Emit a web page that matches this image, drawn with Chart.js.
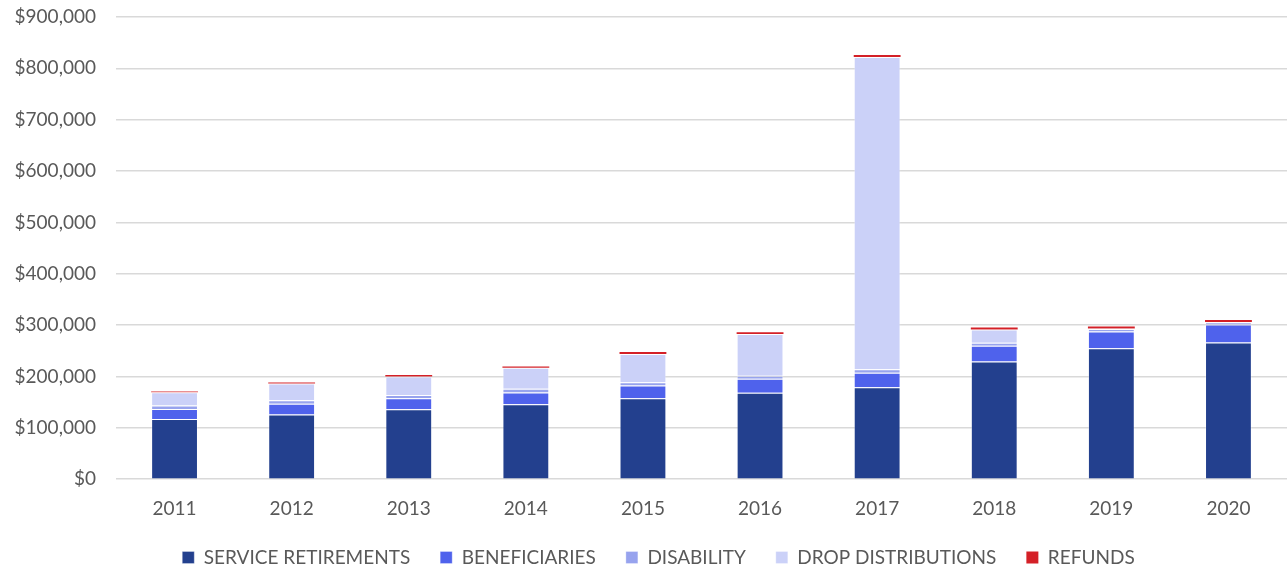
<!DOCTYPE html>
<html>
<head>
<meta charset="utf-8">
<script src="https://cdn.jsdelivr.net/npm/chart.js@4"></script>
<style>
  html, body { margin: 0; padding: 0; background: #fff; }
  #wrap { width: 1288px; height: 568px; }
</style>
</head>
<body>
<div id="wrap"><canvas id="barChart" width="1288" height="568"></canvas></div>
<script>
let years = ['2011', '2012', '2013', '2014', '2015', '2016', '2017', '2018', '2019', '2020'];

let serviceRetirements = [117000, 126000, 136000, 146000, 157500, 168500, 179000, 229000, 255000, 266000];
let beneficiaries      = [19500, 21000, 21500, 23000, 25000, 27000, 28500, 31000, 32500, 35000];
let disability         = [7000, 6500, 6500, 7000, 6500, 6000, 6500, 5500, 5000, 4500];
let dropDistributions  = [26000, 33000, 36000, 41000, 55000, 81000, 608000, 26000, 1000, 500];
let refunds            = [1500, 2000, 3000, 2500, 3500, 3500, 4000, 4000, 4000, 4000];

let yTicks = [0, 100000, 200000, 300000, 400000, 500000, 600000, 700000, 800000, 900000];

let textColor = '#595959';
let fontFamily = "Lato, 'Open Sans', sans-serif";

function series(label, data, color, edge) {
    return {
        label: label,
        data: data,
        backgroundColor: color,
        borderColor: 'rgba(255,255,255,0.3)',
        borderWidth: edge,
        barPercentage: 0.8,
        categoryPercentage: 0.5
    };
}

// the legend needs wide gaps between items but not the tall box that comes with them
let legendSpot = {
    id: 'legendSpot',
    afterInit(chart) {
        let lg = chart.legend;
        let origFit = lg.fit;
        lg.fit = function () {
            origFit.call(this);
            this.height = 22;
        };
    },
    afterLayout(chart) {
        let lg = chart.legend;
        lg.top = 518;
        lg.bottom = 568;
        lg.left += 15;
        lg.right += 15;
    }
};

let ctx = document.getElementById('barChart').getContext('2d');
let chart = new Chart(ctx, {
    type: 'bar',
    data: {
        labels: years,
        datasets: [
            series('SERVICE RETIREMENTS', serviceRetirements, '#23408E', 1),
            series('BENEFICIARIES', beneficiaries, '#4F62EC', 1),
            series('DISABILITY', disability, '#97A3EE', 1),
            series('DROP DISTRIBUTIONS', dropDistributions, '#CBD1F8', 1),
            series('REFUNDS', refunds, '#D42027', 0)
        ]
    },
    plugins: [legendSpot],
    options: {
        responsive: false,
        animation: false,
        layout: { padding: { top: 17, right: 1, left: 0, bottom: 16 } },
        plugins: {
            tooltip: { enabled: false },
            legend: {
                position: 'bottom',
                labels: {
                    boxWidth: 12,
                    boxHeight: 12,
                    padding: 30,
                    color: textColor,
                    font: { family: fontFamily, size: 19 }
                }
            }
        },
        scales: {
            x: {
                stacked: true,
                grid: { display: false },
                border: { display: false },
                ticks: {
                    color: textColor,
                    padding: 10,
                    font: { family: fontFamily, size: 19 }
                }
            },
            y: {
                stacked: true,
                min: 0,
                max: 900000,
                afterBuildTicks: function (axis) {
                    axis.ticks = yTicks.map(v => ({ value: v }));
                },
                afterFit: function (axis) {
                    axis.width = 116;
                    axis.paddingTop = 0;
                    axis.paddingBottom = 0;
                },
                grid: { color: '#D9D9D9', lineWidth: 1.5, drawTicks: false },
                border: { display: false },
                ticks: {
                    color: textColor,
                    padding: 20,
                    font: { family: fontFamily, size: 19 },
                    callback: v => '$' + v.toLocaleString('en-US')
                }
            }
        }
    }
});
</script>
</body>
</html>
